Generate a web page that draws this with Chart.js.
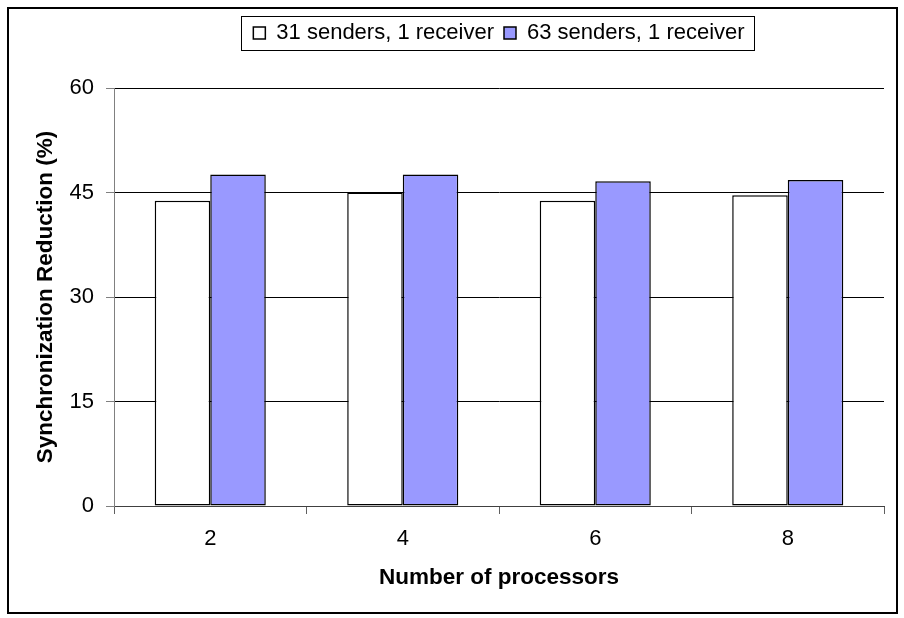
<!DOCTYPE html>
<html>
<head>
<meta charset="utf-8">
<script src="https://cdn.jsdelivr.net/npm/chart.js@4.4.0/dist/chart.umd.min.js"></script>
<style>
  body { margin: 0; background: #fff; }
  canvas { display: block; }
</style>
</head>
<body>
<canvas id="syncChart" width="904" height="618"></canvas>
<script>
// ---------data------------
const processors = ['2', '4', '6', '8'];
const senders31 = [43.8, 45.0, 43.8, 44.6];
const senders63 = [47.6, 47.6, 46.6, 46.8];
const yTicks = [0, 15, 30, 45, 60];

const FONT = 'Arial, "Liberation Sans", sans-serif';

// frame around the whole picture and the legend
const frames = {
  id: 'frames',
  afterDraw(chart) {
    const ctx = chart.ctx;
    ctx.save();
    ctx.strokeStyle = '#000';
    ctx.lineWidth = 2;
    ctx.strokeRect(8, 8, 889, 605);

    const boxes = chart.legend.legendHitBoxes;
    if (boxes && boxes.length) {
      let l = Infinity, r = -Infinity, cy = 0;
      boxes.forEach(b => {
        l = Math.min(l, b.left);
        r = Math.max(r, b.left + b.width);
        cy = b.top + b.height / 2;
      });
      ctx.lineWidth = 1;
      ctx.strokeRect(Math.round(l - 12) + 0.5, Math.round(cy - 17) + 0.5, Math.round(r - l + 22), 34);
    }
    ctx.restore();
  }
};

 data = {
  labels: processors,
  datasets: [
    {
      label: '31 senders, 1 receiver',
      data: senders31,
      backgroundColor: '#FFFFFF',
      borderColor: '#000000',
      borderWidth: 1.5,
      borderSkipped: false,
    },
    {
      label: '63 senders, 1 receiver',
      data: senders63,
      backgroundColor: '#9999FF',
      borderColor: '#000000',
      borderWidth: 1.5,
      borderSkipped: false,
    }
  ]
};

 config = {
  type: 'bar',
  data: data,
  options: {
    responsive: false,
    animation: false,
    datasets: {
      bar: { categoryPercentage: 0.577, barPercentage: 1.0 }
    },
    layout: { padding: { left: 0, right: 20, top: 12, bottom: 0 } },
    scales: {
      x: {
        grid: {
          offset: true,
          drawOnChartArea: false,
          tickLength: 8,
          color: '#606060',
        },
        border: { color: '#404040', width: 1 },
        ticks: { color: '#000', padding: 12, font: { family: FONT, size: 22 } },
        title: {
          display: true,
          text: 'Number of processors',
          color: '#000',
          font: { family: FONT, size: 22.5, weight: 'bold' },
          padding: { top: 0, bottom: 27 }
        },
        afterFit: (s) => { s.height = 112; }
      },
      y: {
        min: 0,
        max: 60,
        afterBuildTicks: (s) => { s.ticks = yTicks.map(v => ({ value: v })); },
        grid: { color: '#000', lineWidth: 1, tickLength: 8, tickColor: '#808080' },
        border: { color: '#808080', width: 1 },
        ticks: { color: '#000', padding: 12, font: { family: FONT, size: 22 } },
        title: {
          display: true,
          text: 'Synchronization Reduction (%)',
          color: '#000',
          font: { family: FONT, size: 22.5, weight: 'bold' },
          padding: { top: 32, bottom: 0 }
        },
        afterFit: (s) => { s.width = 114; }
      }
    },
    plugins: {
      legend: {
        position: 'top',
        fullSize: false,
        labels: {
          color: '#000',
          boxWidth: 12,
          boxHeight: 12,
          padding: 10,
          font: { family: FONT, size: 22 },
        }
      },
      // empty title used only as a spacer under the legend
      title: {
        display: true,
        text: '',
        position: 'top',
        fullSize: false,
        weight: 500,
        padding: 0,
        font: { size: 10, lineHeight: 3.4 }
      },
      tooltip: { enabled: false }
    }
  },
  plugins: [frames]
};

 myChart = new Chart(
    document.getElementById('syncChart'),
    config
  );
</script>
</body>
</html>
